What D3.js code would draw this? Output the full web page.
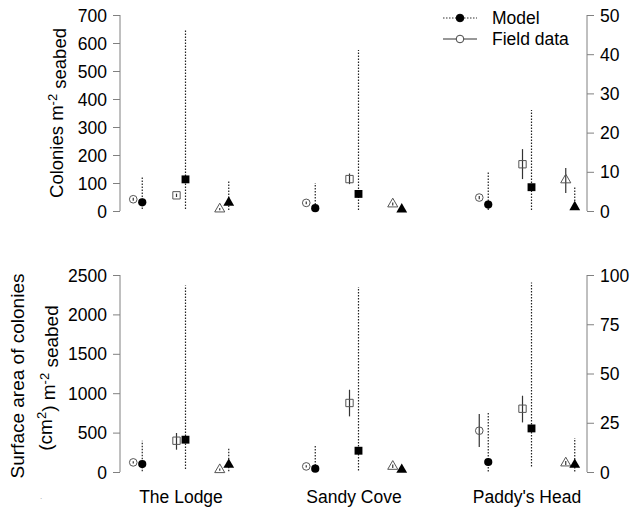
<!DOCTYPE html>
<html><head><meta charset="utf-8">
<script src="https://cdn.jsdelivr.net/npm/d3@7"></script>
<style>
html,body{margin:0;padding:0;background:#fff;}
svg{display:block;font-family:"Liberation Sans",Arial,sans-serif;}
</style></head>
<body>
<svg id="chart" width="630" height="509"></svg>
<script>
// ---- data ----
const sites = ["The Lodge", "Sandy Cove", "Paddy's Head"];
const groups = ["circle", "square", "triangle"];

// Colonies m-2 seabed (rows: sites, cols: groups)
const colFieldMean = [[42, 56, 7], [29, 114, 25], [48, 167, 111]];
const colFieldLo   = [[37, 50, 3], [24, 96, 20], [42, 114, 64]];
const colFieldHi   = [[47, 62, 11], [34, 134, 30], [54, 221, 154]];
const colModelMean = [[31, 113, 30], [10, 61, 6], [23, 85, 14]];
const colModelLo   = [[7, 7, 4], [2, 4, 2], [4, 4, 4]];
const colModelHi   = [[121, 650, 111], [100, 575, 12], [139, 361, 86]];

// Surface area of colonies (cm2) m-2 seabed
const areaFieldMean = [[122, 397, 29], [71, 876, 71], [524, 803, 114]];
const areaFieldLo   = [[108, 283, 15], [57, 706, 50], [317, 629, 90]];
const areaFieldHi   = [[136, 495, 45], [85, 1044, 95], [736, 968, 140]];
const areaModelMean = [[101, 410, 93], [42, 270, 29], [127, 553, 93]];
const areaModelLo   = [[10, 38, 10], [5, 20, 5], [5, 71, 5]];
const areaModelHi   = [[397, 2368, 305], [346, 2348, 35], [757, 2406, 431]];

const topTicksL = [0, 100, 200, 300, 400, 500, 600, 700];
const topTicksR = [0, 10, 20, 30, 40, 50];
const botTicksL = [0, 500, 1000, 1500, 2000, 2500];
const botTicksR = [0, 25, 50, 75, 100];

// ---- drawing ----
const svg = d3.select("#chart");
const axisCol = "#808080";
const fontSize = 17.5;

const x = d3.scaleLinear().domain([0.5, 3.5]).range([94.5, 613.5]);
const groupOffset = d3.scalePoint().domain(groups).range([-0.25, 0.25]);
const pairOffset = 0.026;

const symbolType = {circle: d3.symbolCircle, square: d3.symbolSquare, triangle: d3.symbolTriangle};
const symbolSize = {circle: 46, square: 54, triangle: 44};

function styleAxis(ax, scale, ticks) {
  ax.select(".domain").remove();
  ax.append("line").attr("x1", 0).attr("x2", 0)
    .attr("y1", scale(ticks[0])).attr("y2", scale(ticks[ticks.length - 1]))
    .attr("stroke", axisCol);
  ax.selectAll(".tick line").attr("stroke", axisCol);
  ax.selectAll(".tick text").attr("fill", "#000").attr("font-size", fontSize)
    .attr("font-family", "Liberation Sans, Arial, sans-serif").attr("dy", "0.35em");
}

function panel(cfg) {
  const yL = d3.scaleLinear().domain(cfg.domainL).range([cfg.y0, cfg.y1]);
  const yR = d3.scaleLinear().domain(cfg.domainR).range([cfg.y0, cfg.y1]);
  const g = svg.append("g");

  const ax = g.append("g").attr("transform", `translate(120,0)`)
    .call(d3.axisLeft(yL).tickValues(cfg.ticksL).tickFormat(d3.format("d")).tickSize(7).tickPadding(6).tickSizeOuter(0));
  styleAxis(ax, yL, cfg.ticksL);

  const axR = g.append("g").attr("transform", `translate(587,0)`)
    .call(d3.axisRight(yR).tickValues(cfg.ticksR).tickFormat(d3.format("d")).tickSize(7).tickPadding(6).tickSizeOuter(0));
  styleAxis(axR, yR, cfg.ticksR);

  const pts = [];
  sites.forEach((s, i) => groups.forEach((gr, j) => {
    pts.push({site: i + 1, group: gr,
      fm: cfg.fm[i][j], flo: cfg.flo[i][j], fhi: cfg.fhi[i][j],
      mm: cfg.mm[i][j], mlo: cfg.mlo[i][j], mhi: cfg.mhi[i][j]});
  }));
  const fx = d => x(d.site + groupOffset(d.group) - pairOffset);
  const mx = d => x(d.site + groupOffset(d.group) + pairOffset);

  // model ranges (dotted)
  g.selectAll(".mrange").data(pts).join("line")
    .attr("x1", mx).attr("x2", mx)
    .attr("y1", d => yL(d.mlo)).attr("y2", d => yL(d.mhi))
    .attr("stroke", "#222").attr("stroke-width", 1.2).attr("stroke-dasharray", "1.5,1.5");

  // field error bars (solid)
  g.selectAll(".frange").data(pts).join("line")
    .attr("x1", fx).attr("x2", fx)
    .attr("y1", d => yL(d.flo)).attr("y2", d => yL(d.fhi))
    .attr("stroke", "#333").attr("stroke-width", 1.2);

  // field markers (open)
  g.selectAll(".fpt").data(pts).join("path")
    .attr("transform", d => `translate(${fx(d)},${yL(d.fm)})`)
    .attr("d", d => d3.symbol().type(symbolType[d.group]).size(symbolSize[d.group])())
    .attr("fill", "none").attr("stroke", "#555").attr("stroke-width", 1);

  // model markers (filled)
  g.selectAll(".mpt").data(pts).join("path")
    .attr("transform", d => `translate(${mx(d)},${yL(d.mm)})`)
    .attr("d", d => d3.symbol().type(symbolType[d.group]).size(symbolSize[d.group] * 1.15)())
    .attr("fill", "#000");
}

panel({y0: 211, y1: 15, domainL: [0, 700], domainR: [0, 50], ticksL: topTicksL, ticksR: topTicksR,
  fm: colFieldMean, flo: colFieldLo, fhi: colFieldHi, mm: colModelMean, mlo: colModelLo, mhi: colModelHi});
panel({y0: 472, y1: 275, domainL: [0, 2500], domainR: [0, 100], ticksL: botTicksL, ticksR: botTicksR,
  fm: areaFieldMean, flo: areaFieldLo, fhi: areaFieldHi, mm: areaModelMean, mlo: areaModelLo, mhi: areaModelHi});

// y-axis titles
const t1 = svg.append("text").attr("transform", "translate(63,113) rotate(-90)")
  .attr("text-anchor", "middle").attr("font-size", 18.5);
t1.append("tspan").text("Colonies m");
t1.append("tspan").attr("dy", "-0.5em").attr("font-size", 13).text("-2");
t1.append("tspan").attr("dy", "0.5em").text(" seabed");

svg.append("text").attr("transform", "translate(24,376) rotate(-90)")
  .attr("text-anchor", "middle").attr("font-size", 19).text("Surface area of colonies");
const t3 = svg.append("text").attr("transform", "translate(52,378) rotate(-90)")
  .attr("text-anchor", "middle").attr("font-size", 19);
t3.append("tspan").text("(cm");
t3.append("tspan").attr("dy", "-0.5em").attr("font-size", 13).text("2");
t3.append("tspan").attr("dy", "0.5em").text(") m");
t3.append("tspan").attr("dy", "-0.5em").attr("font-size", 13).text("-2");
t3.append("tspan").attr("dy", "0.5em").text(" seabed");

// site labels
svg.selectAll(".site").data(sites).join("text")
  .attr("x", (d, i) => x(i + 1)).attr("y", 503)
  .attr("text-anchor", "middle").attr("font-size", fontSize).text(d => d);

// stray dot
svg.append("text").attr("x", 40).attr("y", 499).attr("font-size", 8).attr("fill", "#999").text(".");

// legend
const legItems = [
  {label: "Model", y: 18, dash: "1.5,1.5", fill: "#000", stroke: "#000"},
  {label: "Field data", y: 39, dash: null, fill: "#fff", stroke: "#444"}
];
const leg = svg.append("g");
legItems.forEach(it => {
  leg.append("line").attr("x1", 443).attr("x2", 477).attr("y1", it.y).attr("y2", it.y)
    .attr("stroke", "#333").attr("stroke-width", 1.2).attr("stroke-dasharray", it.dash);
  leg.append("circle").attr("cx", 460).attr("cy", it.y).attr("r", 3.8)
    .attr("fill", it.fill).attr("stroke", it.stroke);
  leg.append("text").attr("x", 492).attr("y", it.y).attr("dy", "0.35em")
    .attr("font-size", fontSize).text(it.label);
});
</script>
</body></html>
